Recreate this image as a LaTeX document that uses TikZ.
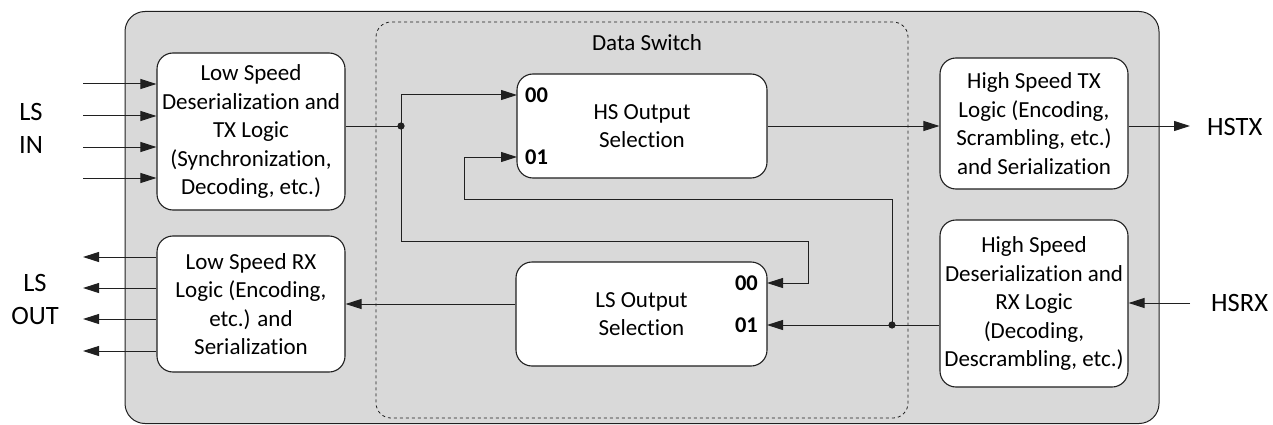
\documentclass[tikz,border=0pt]{standalone}
\usepackage{fontspec}
\setmainfont{Carlito}[Ligatures=NoCommon]
\usetikzlibrary{arrows.meta}
\definecolor{bg}{HTML}{D9D9D9}
\definecolor{ln}{HTML}{202020}
\begin{document}
\begin{tikzpicture}[x=1pt,y=-1pt,
  blk/.style={draw=ln, fill=white, rounded corners=16pt, line width=1.1pt, align=center, inner sep=0pt, font=\fontsize{23}{28.5}\selectfont},
  wire/.style={line width=1pt, draw=ln},
  arr/.style={wire, -{Triangle[length=16pt,width=10pt]}},
  port/.style={font=\fontsize{22.5}{26}\selectfont\bfseries, inner sep=0pt},
  ext/.style={font=\fontsize{26.5}{33}\selectfont, align=center, inner sep=0pt}
]
\useasboundingbox (0,0) rectangle (1273,425);
% containers
\node[draw=ln, fill=bg, line width=1pt, rounded corners=20pt, minimum width=1034pt, minimum height=412pt, inner sep=0pt] (chip) at (642,217.5) {};
\node[draw=ln, dashed, line width=0.8pt, rounded corners=15pt, minimum width=532pt, minimum height=396pt, inner sep=0pt] (switch) at (642,220) {};
\node[font=\fontsize{23}{26}\selectfont, inner sep=0pt] (swl) at (647,43) {Data Switch};
% blocks
\node[blk, minimum width=188pt, minimum height=157pt] (lsin) at (251,131.5) {Low Speed\\Deserialization and\\TX Logic\\(Synchronization,\\Decoding, etc.)};
\node[blk, minimum width=188pt, minimum height=136pt] (lsrx) at (251,304) {Low Speed RX\\Logic (Encoding,\\etc.) and\\Serialization};
\node[blk, minimum width=250pt, minimum height=104pt] (hssel) at (642,126) {HS Output\\Selection};
\node[blk, minimum width=251pt, minimum height=104pt] (lssel) at (641.5,314) {LS Output\\Selection};
\node[blk, minimum width=188pt, minimum height=131pt] (hstx) at (1034,123.5) {High Speed TX\\Logic (Encoding,\\Scrambling, etc.)\\and Serialization};
\node[blk, minimum width=188pt, minimum height=167pt] (hsrx) at (1034,303.5) {High Speed\\Deserialization and\\RX Logic\\(Decoding,\\Descrambling, etc.)};
% port labels
\node[port, anchor=west] (hs00l) at (525,95) {00};
\node[port, anchor=west] (hs01l) at (525,157) {01};
\node[port, anchor=east] (ls00l) at (758,283) {00};
\node[port, anchor=east] (ls01l) at (758,325) {01};
% external labels
\node[ext] (lsinl) at (31,128.5) {LS\\IN};
\node[ext] (lsoutl) at (35,299.5) {LS\\OUT};
\node[ext, anchor=west] (hstxl) at (1207,127) {HSTX};
\node[ext, anchor=west] (hsrxl) at (1211,303) {HSRX};
% coordinates
\coordinate (j1) at (401,126);
\coordinate (j2) at (892,325);
\coordinate (hs00) at (517,95);
\coordinate (hs01) at (517,157);
\coordinate (ls00) at (767,283);
\coordinate (ls01) at (767,325);
\coordinate (b1) at (808,241);
\coordinate (f1) at (464,199);
\coordinate (hstxend) at (1190,126);
\coordinate (hsrxin) at (1190,303);
% LS inputs / outputs
\foreach \y [count=\i] in {84,116,147,178} {
  \coordinate (in\i) at (83,\y);
  \draw[arr] (in\i) -- (lsin.west |- in\i);
}
\foreach \y [count=\i] in {257,288,319,351} {
  \coordinate (out\i) at (83,\y);
  \draw[arr] (lsrx.west |- out\i) -- (out\i);
}
% data paths
\draw[wire] (lsin.east |- j1) -- (j1);
\draw[arr] (j1) |- (hs00);
\draw[arr] (j1) |- (b1) |- (ls00);
\draw[arr] (hssel.east) -- (hstx.west |- hssel.east);
\draw[arr] (hstx.east |- hssel.east) -- (hstxend);
\draw[arr] (hsrxin) -- (hsrx.east |- hsrxin);
\draw[wire] (hsrx.west |- j2) -- (j2);
\draw[arr] (j2) -- (ls01);
\draw[arr] (j2) |- (f1) |- (hs01);
\draw[arr] (lssel.west |- lsrx.east) -- (lsrx.east);
\fill[ln] (j1) circle (3.6pt);
\fill[ln] (j2) circle (3.6pt);
\end{tikzpicture}
\end{document}
